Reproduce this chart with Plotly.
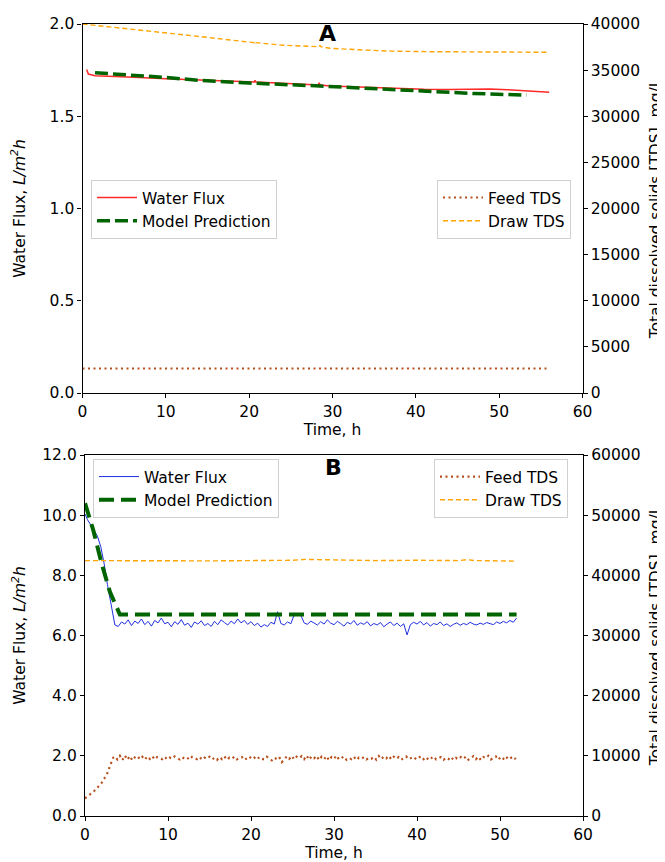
import plotly.graph_objects as go

# ---------------- Panel A data ----------------
a_flux_t = [0.5, 0.7, 1.5, 3.0, 6.1, 10.0, 14.1, 18.0, 20.6, 20.7, 20.8, 24.0, 28.3, 28.4, 28.5, 29.7, 33.0, 37.7, 41.0, 44.0, 45.7, 48.0, 48.9, 51.0, 53.5, 56.0]
a_flux = [1.754, 1.729, 1.720, 1.716, 1.711, 1.703, 1.696, 1.689, 1.686, 1.694, 1.686, 1.679, 1.669, 1.681, 1.669, 1.664, 1.658, 1.649, 1.646, 1.645, 1.646, 1.648, 1.648, 1.644, 1.636, 1.630]

a_model_t = [1.5, 5.0, 10.0, 14.0, 20.0, 28.5, 35.0, 41.7, 47.0, 53.3]
a_model = [1.736, 1.726, 1.710, 1.695, 1.680, 1.664, 1.648, 1.633, 1.623, 1.615]

a_draw_t = [0.0, 5.0, 10.0, 15.0, 20.6, 20.7, 20.8, 24.0, 28.4, 28.5, 28.6, 29.7, 33.7, 37.0, 41.7, 47.0, 52.0, 56.0]
a_draw = [40000, 39530, 39030, 38550, 37973, 38150, 37973, 37700, 37540, 37700, 37540, 37366, 37180, 37060, 37000, 36980, 36950, 36935]

a_feed_t = [0.0, 56.0]
a_feed = [2650, 2650]

# ---------------- Panel B data ----------------
b_flux_t0 = [0.0, 0.3, 0.7, 1.1, 1.5, 1.9, 2.3, 2.7, 3.0, 3.3, 3.6]
b_flux0 = [10.04, 9.85, 9.67, 9.50, 9.30, 8.95, 8.40, 7.70, 7.20, 6.80, 6.35]
b_flux_steady = [
    6.30, 6.45, 6.38, 6.52, 6.33, 6.48, 6.40, 6.55, 6.36, 6.47, 6.31, 6.50, 6.42, 6.58, 6.39,
    6.44, 6.29, 6.46, 6.37, 6.53, 6.34, 6.41, 6.27, 6.45, 6.38, 6.49, 6.33, 6.40, 6.30, 6.47,
    6.36, 6.52, 6.43, 6.35, 6.48, 6.39, 6.55, 6.42, 6.50, 6.37,
    6.46, 6.33, 6.41, 6.28, 6.36, 6.30, 6.44, 6.38, 6.79, 6.40, 6.35, 6.45, 6.39, 6.69, 6.70,
    6.68, 6.42, 6.37, 6.48, 6.40, 6.35, 6.46, 6.38, 6.52, 6.41,
    6.36, 6.47, 6.40, 6.31, 6.44, 6.38, 6.50, 6.34, 6.42, 6.37, 6.46, 6.32, 6.40, 6.35, 6.43,
    6.29, 6.38, 6.45, 6.33, 6.41, 6.30, 6.39, 6.02, 6.36, 6.44,
    6.38, 6.47, 6.35, 6.43, 6.31, 6.40, 6.36, 6.45, 6.33, 6.39, 6.30, 6.37, 6.42, 6.34, 6.40,
    6.36, 6.44, 6.38, 6.35, 6.41, 6.37, 6.43, 6.39, 6.36, 6.45, 6.40, 6.47, 6.42, 6.50, 6.44, 6.58,
]
b_flux_t_steady = [round(4.0 + 0.4 * i, 2) for i in range(len(b_flux_steady))]
b_flux_t = b_flux_t0 + b_flux_t_steady
b_flux = b_flux0 + b_flux_steady

b_model_t = [0.0, 1.0, 2.0, 3.0, 4.2, 52.0]
b_model = [10.40, 9.50, 8.40, 7.45, 6.70, 6.70]

b_draw_t = [0.0, 5.0, 10.0, 15.0, 20.0, 25.0, 26.5, 28.0, 30.0, 35.0, 40.0, 45.0, 46.0, 47.0, 50.0, 52.0]
b_draw = [42450, 42400, 42450, 42400, 42450, 42500, 42650, 42600, 42550, 42450, 42500, 42450, 42600, 42450, 42400, 42350]

b_feed_t0 = [0.0, 0.5, 1.0, 1.5, 2.0, 2.4, 2.8, 3.0, 3.2, 3.4]
b_feed0 = [2950, 3450, 4000, 4700, 5500, 6400, 7400, 8300, 9100, 9700]
b_feed_steady = [
    9900, 9400, 10000, 9300, 10050, 9350, 9950, 9250, 9750, 10000, 9450, 9850, 9350, 9900, 9500, 9950, 9400, 9800, 9600, 9450,
    9850, 9400, 9700, 9500, 9900, 9600, 9400, 9800, 9500, 9700, 9350, 9850, 9600, 9450, 9800, 9350, 9700, 9500, 9850, 9400,
    9650, 9300, 9800, 9450, 9900, 9350, 9700, 9500, 9850, 9400, 9650, 9800, 9300, 9550, 9900, 9450, 9700, 9350, 9800, 9500,
    9400, 9850, 9600, 9250, 9700, 9450, 9800, 8950, 9350, 9900, 9500, 10000, 9400, 9850, 9600, 9950, 9450, 10050, 9350, 9900,
    9600, 10000, 9300, 9850, 9450, 9950, 9250, 9800, 9500, 10050, 9400, 9700, 9900, 9350, 9650, 9450, 9850, 9300, 9700, 9500,
    9800, 9400, 9650, 9500, 9850, 9350, 9950, 9450, 9900, 9600, 10000, 9400, 9850, 9500, 9800, 9350, 9700, 9900, 9450, 9650,
    9850, 9400, 9700, 9950, 9450, 9800, 9300, 9650, 9900, 9400, 9550, 9800, 9350, 9700, 9450, 9850, 9300, 9650, 9400, 9800,
    9500, 9900, 9350, 9700, 9950, 9450, 9850, 9300, 9800, 9600, 10000, 9400, 9700, 9900, 9350, 9850, 9500, 9950, 9400, 9700,
    9900, 9450,
]
b_feed_t_steady = [round(3.6 + 0.3 * i, 2) for i in range(len(b_feed_steady))]
b_feed_t = b_feed_t0 + b_feed_t_steady
b_feed = b_feed0 + b_feed_steady

x_ticks = [0, 10, 20, 30, 40, 50, 60]

# ---------------- styling ----------------
FONT = "DejaVu Sans"
FS = 15.5
RED = "#ff2a2a"
GREEN = "#006400"
BLUE = "#1f2fe0"
ORANGE = "#ffa500"
BROWN = "#b8501e"

fig = go.Figure()

# Panel A
fig.add_trace(go.Scatter(x=a_flux_t, y=a_flux, mode="lines", name="Water Flux",
                         line=dict(color=RED, width=1.5), xaxis="x", yaxis="y", legend="legend"))
fig.add_trace(go.Scatter(x=a_model_t, y=a_model, mode="lines", name="Model Prediction",
                         line=dict(color=GREEN, width=3.5, dash="13px,5px"), xaxis="x", yaxis="y", legend="legend"))
fig.add_trace(go.Scatter(x=a_feed_t, y=a_feed, mode="lines", name="Feed TDS",
                         line=dict(color=BROWN, width=2, dash="2px,3.5px"), xaxis="x", yaxis="y2", legend="legend2"))
fig.add_trace(go.Scatter(x=a_draw_t, y=a_draw, mode="lines", name="Draw TDS",
                         line=dict(color=ORANGE, width=1.4, dash="5px,3px"), xaxis="x", yaxis="y2", legend="legend2"))

# Panel B
fig.add_trace(go.Scatter(x=b_flux_t, y=b_flux, mode="lines", name="Water Flux",
                         line=dict(color=BLUE, width=1), xaxis="x2", yaxis="y3", legend="legend3"))
fig.add_trace(go.Scatter(x=b_model_t, y=b_model, mode="lines", name="Model Prediction",
                         line=dict(color=GREEN, width=4, dash="15px,7px"), xaxis="x2", yaxis="y3", legend="legend3"))
fig.add_trace(go.Scatter(x=b_feed_t, y=b_feed, mode="lines", name="Feed TDS",
                         line=dict(color=BROWN, width=2.2, dash="2px,3.5px"), xaxis="x2", yaxis="y4", legend="legend4"))
fig.add_trace(go.Scatter(x=b_draw_t, y=b_draw, mode="lines", name="Draw TDS",
                         line=dict(color=ORANGE, width=1.4, dash="5px,3px"), xaxis="x2", yaxis="y4", legend="legend4"))

# The page body has an 8px margin, so the figure is sized to fill the rest of the window.
OFF = 8
W, H = 665 - OFF, 862 - OFF
def px_x(v):
    return (v - OFF) / W
def px_y(v):
    return 1 - (v - OFF) / H

tickfont = dict(family=FONT, size=FS, color="black")
titlefont = dict(family=FONT, size=FS, color="black")
common_axis = dict(showgrid=False, zeroline=False, showline=True, linecolor="black", linewidth=1.3,
                   ticks="outside", ticklen=4, tickwidth=1.2, tickcolor="black", tickfont=tickfont,
                   automargin=False)

left_title = "Water Flux, <i>L/m<sup>2</sup>h</i>"
right_title = "Total dissolved solids [TDS], mg/L"

legend_style = dict(bgcolor="rgba(255,255,255,0.85)", bordercolor="#d0d0d0", borderwidth=1,
                    font=dict(family=FONT, size=FS, color="black"), xanchor="left", yanchor="top",
                    tracegroupgap=0, itemwidth=40)

fig.update_layout(
    width=W, height=H, autosize=False,
    margin=dict(l=0, r=0, t=0, b=0),
    paper_bgcolor="white", plot_bgcolor="white",
    font=dict(family=FONT, size=FS, color="black"),
    xaxis=dict(domain=[px_x(82.5), px_x(582.5)], anchor="y", range=[0, 60], tickvals=x_ticks, mirror=True,
               title=dict(text="Time, h", font=titlefont, standoff=3), **common_axis),
    yaxis=dict(domain=[px_y(393), px_y(24)], anchor="x", range=[0, 2], dtick=0.5, tickformat=".1f",
               title=dict(text=left_title, font=titlefont, standoff=21), **common_axis),
    yaxis2=dict(overlaying="y", side="right", anchor="x", range=[0, 40000], dtick=5000, tickformat="d",
                title=dict(text=right_title, font=titlefont, standoff=14), **common_axis),
    xaxis2=dict(domain=[px_x(85), px_x(583)], anchor="y3", range=[0, 60], tickvals=x_ticks, mirror=True,
                title=dict(text="Time, h", font=titlefont, standoff=3), **common_axis),
    yaxis3=dict(domain=[px_y(816), px_y(455)], anchor="x2", range=[0, 12], dtick=2, tickformat=".1f",
                title=dict(text=left_title, font=titlefont, standoff=12), **common_axis),
    yaxis4=dict(overlaying="y3", side="right", anchor="x2", range=[0, 60000], dtick=10000, tickformat="d",
                title=dict(text=right_title, font=titlefont, standoff=14), **common_axis),
    legend=dict(x=px_x(91), y=px_y(180), **legend_style),
    legend2=dict(x=px_x(437), y=px_y(180), **legend_style),
    legend3=dict(x=px_x(93), y=px_y(459), **legend_style),
    legend4=dict(x=px_x(434), y=px_y(459), **legend_style),
    annotations=[
        dict(text="<b>A</b>", x=px_x(327), y=px_y(33), xref="paper", yref="paper", showarrow=False,
             xanchor="center", yanchor="middle", font=dict(family=FONT, size=22, color="black")),
        dict(text="<b>B</b>", x=px_x(333), y=px_y(467), xref="paper", yref="paper", showarrow=False,
             xanchor="center", yanchor="middle", font=dict(family=FONT, size=22, color="black")),
    ],
)

fig.write_html("out.html")
